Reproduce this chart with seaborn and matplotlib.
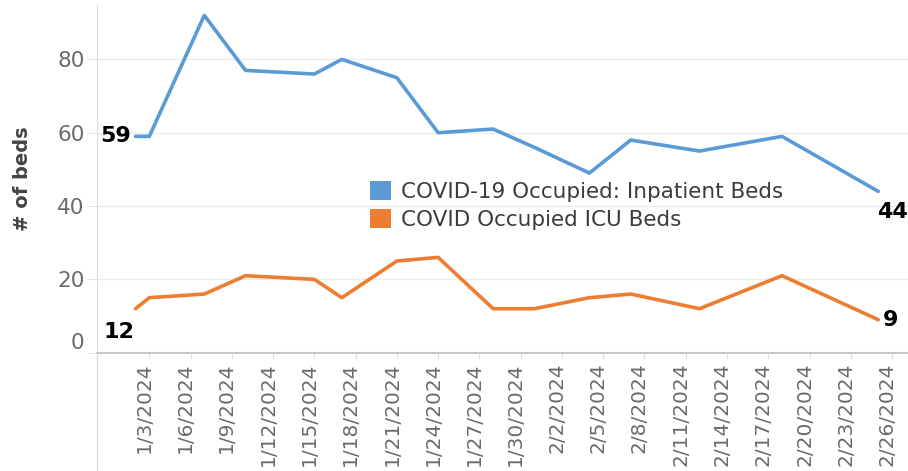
import pandas as pd
import numpy as np
import matplotlib.pyplot as plt
import matplotlib.transforms as mtransforms
from matplotlib.lines import Line2D
from matplotlib.patches import Patch
import seaborn as sns

# Values
dates = ['2024-01-02', '2024-01-03', '2024-01-07', '2024-01-10', '2024-01-15',
         '2024-01-17', '2024-01-21', '2024-01-24', '2024-01-28', '2024-01-31',
         '2024-02-04', '2024-02-07', '2024-02-12', '2024-02-18', '2024-02-25']
inpatient_beds = [59, 59, 92, 77, 76, 80, 75, 60, 61, 56, 49, 58, 55, 59, 44]
icu_beds = [12, 15, 16, 21, 20, 15, 25, 26, 12, 12, 15, 16, 12, 21, 9]
series_names = ['COVID-19 Occupied: Inpatient Beds', 'COVID Occupied ICU Beds']
colors = ['#5b9bd5', '#ed7d31']

df = pd.DataFrame({
    'Date': pd.to_datetime(dates * 2),
    'Beds': inpatient_beds + icu_beds,
    'Measure': [series_names[0]] * len(dates) + [series_names[1]] * len(dates),
})

sns.set_style('white')
plt.rcParams['font.family'] = ['DejaVu Sans']

fig = plt.figure(figsize=(9.08, 4.71), dpi=100)
ax = fig.add_axes([97 / 908, 1 - 352.7 / 471, 811 / 908, (352.7 - 4.4) / 471])

sns.lineplot(data=df, x='Date', y='Beds', hue='Measure', palette=colors,
             linewidth=2.6, ax=ax, legend=False)

# axes ranges
start = pd.Timestamp(dates[0])
end = pd.Timestamp(dates[-1])
ax.set_xlim(start - pd.Timedelta(days=2.8), end + pd.Timedelta(days=2.16))
ax.set_ylim(0, 95)

# y axis
ax.set_yticks([0, 20, 40, 60, 80])
ax.yaxis.grid(True, color='#ececec', linewidth=1)
ax.tick_params(axis='y', labelsize=15.5, labelcolor='#6b6b6b', length=7,
               color='#e6e6e6', pad=2, left=True)
for lbl in ax.get_yticklabels():
    if lbl.get_text() == '0':
        lbl.set_va('bottom')
ax.set_ylabel('# of beds', fontsize=14, fontweight='bold', color='#444444')
ax.yaxis.set_label_coords(-0.08, 0.5)

# x axis, one tick every 3 days
ticks = pd.date_range('2024-01-03', '2024-02-26', freq='3D')
ax.set_xticks(ticks)
ax.set_xticklabels([f'{d.month}/{d.day}/{d.year}' for d in ticks], rotation=90)
ax.tick_params(axis='x', labelsize=14.5, labelcolor='#6b6b6b', length=4,
               color='#e0e0e0', pad=3, bottom=True)
shift = mtransforms.ScaledTranslation(-5 / 100, 0, fig.dpi_scale_trans)
for lbl in ax.get_xticklabels():
    lbl.set_transform(lbl.get_transform() + shift)
ax.set_xlabel('')

for side in ['top', 'right']:
    ax.spines[side].set_visible(False)
ax.spines['left'].set_color('#dcdcdc')
ax.spines['bottom'].set_color('#c8c8c8')
ax.spines['bottom'].set_linewidth(1.5)

# y axis line runs down through the date labels
fig.add_artist(Line2D([97 / 908, 97 / 908], [0, 1 - 352.7 / 471],
                      transform=fig.transFigure, color='#dcdcdc', linewidth=1))

# end point labels
lab = dict(fontsize=16, fontweight='bold', color='black', textcoords='offset points')
ax.annotate(str(inpatient_beds[0]), (start, inpatient_beds[0]), xytext=(-3, 0),
            ha='right', va='center', **lab)
ax.annotate(str(icu_beds[0]), (start, icu_beds[0]), xytext=(-12, -17),
            ha='center', va='center', **lab)
ax.annotate(str(inpatient_beds[-1]), (end, inpatient_beds[-1]), xytext=(10, -15),
            ha='center', va='center', **lab)
ax.annotate(str(icu_beds[-1]), (end, icu_beds[-1]), xytext=(3, 0),
            ha='left', va='center', **lab)

# legend
handles = [Patch(facecolor=c, edgecolor='none') for c in colors]
fig.legend(handles, series_names, loc='upper left', bbox_to_anchor=(361 / 908, 1 - 172 / 471),
           frameon=False, fontsize=15.5, labelcolor='#3c3c3c', handlelength=1.0,
           handleheight=1.0, handletextpad=0.45, labelspacing=0.35, borderaxespad=0)

fig.savefig('out.png', dpi=100)
